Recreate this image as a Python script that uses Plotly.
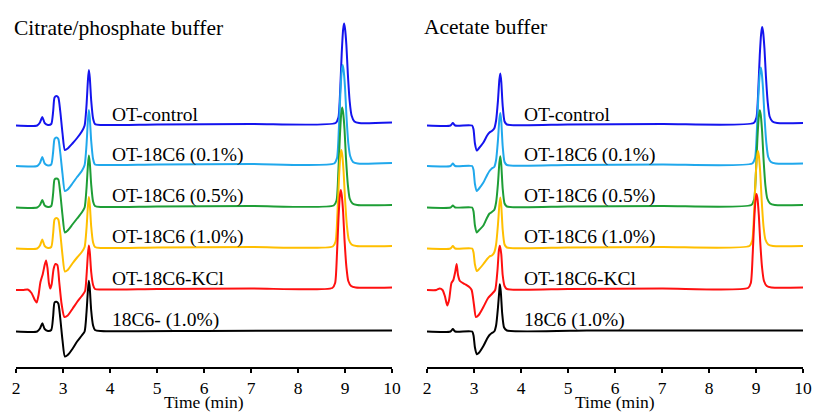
import plotly.graph_objects as go

# ---------------- data (signal in arbitrary units, time in min) ----------------
SERIES = ["OT-control", "OT-18C6 (0.1%)", "OT-18C6 (0.5%)", "OT-18C6 (1.0%)", "OT-18C6-KCl", "18C6"]
COLORS = ["#1414EE", "#20A8EC", "#1E9E36", "#FFBF00", "#FF1010", "#000000"]
OFFSETS = [206, 165.5, 124, 83, 41.5, 0]

LABELS_LEFT = ["OT-control", "OT-18C6 (0.1%)", "OT-18C6 (0.5%)", "OT-18C6 (1.0%)", "OT-18C6-KCl", "18C6- (1.0%)"]
LABELS_RIGHT = ["OT-control", "OT-18C6 (0.1%)", "OT-18C6 (0.5%)", "OT-18C6 (1.0%)", "OT-18C6-KCl", "18C6 (1.0%)"]
TITLE_LEFT = "Citrate/phosphate buffer"
TITLE_RIGHT = "Acetate buffer"
X_TITLE = "Time (min)"
X_TICKS = [2, 3, 4, 5, 6, 7, 8, 9, 10]

# ---- Citrate/phosphate buffer ----
t_L_control = [2.00, 2.45, 2.51, 2.56, 2.61, 2.68, 2.75, 2.79, 2.82, 2.86, 2.90, 2.94, 2.99, 3.04, 3.10, 3.20, 3.30, 3.40, 3.46, 3.50, 3.53, 3.55, 3.57, 3.60, 3.64, 3.68, 3.80, 5.00, 7.00, 8.80, 8.86, 8.90, 8.93, 8.96, 8.98, 9.00, 9.03, 9.06, 9.10, 9.14, 9.20, 9.30, 10.00]
s_L_control = [0, 0, 3, 8.5, 2.5, 0.5, 1.5, 14, 28, 29.5, 28, 15, -8, -24.5, -23, -18, -12.5, -6, 0, 20, 45, 55.5, 48, 25, 7, 1.5, 0.5, 1, 1.5, 2.5, 8, 38, 72, 96, 102, 97, 80, 52, 24, 10, 4, 2.5, 3]

t_L_01 = [2.00, 2.45, 2.51, 2.56, 2.61, 2.68, 2.75, 2.79, 2.82, 2.86, 2.90, 2.94, 2.99, 3.04, 3.10, 3.20, 3.30, 3.40, 3.46, 3.50, 3.53, 3.55, 3.57, 3.60, 3.64, 3.68, 3.80, 5.00, 7.00, 8.77, 8.83, 8.87, 8.90, 8.93, 8.95, 8.97, 9.00, 9.03, 9.07, 9.11, 9.17, 9.27, 10.00]
s_L_01 = [0, 0, 3, 9, 2.5, 0.5, 1.5, 14, 27, 28.5, 27, 14, -8, -25, -23.5, -17.5, -11, -5, 1, 21, 46, 56, 48, 25, 7, 1.5, 1, 1.5, 2, 2.5, 8, 38, 71, 95, 101, 96, 79, 51, 23, 10, 4, 2.5, 3]

t_L_05 = [2.00, 2.45, 2.51, 2.56, 2.61, 2.68, 2.75, 2.79, 2.82, 2.86, 2.90, 2.94, 2.99, 3.04, 3.10, 3.20, 3.30, 3.40, 3.46, 3.50, 3.53, 3.55, 3.57, 3.60, 3.64, 3.68, 3.80, 5.00, 7.00, 8.76, 8.82, 8.86, 8.89, 8.92, 8.94, 8.96, 8.99, 9.02, 9.06, 9.10, 9.16, 9.26, 10.00]
s_L_05 = [0, 0, 2.5, 7.5, 2, 0.5, 1.5, 14, 28, 29, 28, 15, -8, -25, -23, -17, -11, -5, 0, 19, 42, 52, 45, 23, 6, 1.5, 0.5, 1, 1.5, 2, 7, 37, 70, 94, 100, 95, 78, 50, 23, 9, 4, 2.5, 2.5]

t_L_10 = [2.00, 2.45, 2.51, 2.56, 2.61, 2.68, 2.75, 2.79, 2.82, 2.86, 2.90, 2.94, 2.99, 3.04, 3.10, 3.20, 3.30, 3.40, 3.46, 3.50, 3.53, 3.55, 3.57, 3.60, 3.64, 3.68, 3.80, 5.00, 7.00, 8.74, 8.80, 8.84, 8.87, 8.90, 8.92, 8.94, 8.97, 9.00, 9.04, 9.08, 9.14, 9.24, 10.00]
s_L_10 = [0, 0, 3, 9, 2.5, 0.5, 1.5, 15, 29, 30.5, 29, 16, -7, -23, -21.5, -15, -9, -3.5, 1.5, 20, 42, 51.5, 44, 22, 6, 1.5, 0.5, 1, 1.5, 2, 7, 36, 68, 92, 98.5, 94, 77, 50, 23, 9, 4, 2.5, 2.5]

t_L_kcl = [2.00, 2.15, 2.25, 2.33, 2.40, 2.44, 2.48, 2.52, 2.57, 2.61, 2.64, 2.67, 2.70, 2.73, 2.76, 2.80, 2.84, 2.88, 2.92, 2.97, 3.03, 3.10, 3.20, 3.30, 3.40, 3.47, 3.50, 3.53, 3.55, 3.57, 3.60, 3.64, 3.68, 3.80, 5.00, 7.00, 8.73, 8.79, 8.83, 8.86, 8.89, 8.91, 8.93, 8.96, 8.99, 9.03, 9.07, 9.13, 9.23, 10.00]
s_L_kcl = [0, 0, 0.5, -3, -10, -12.5, -5, 8, 16, 25, 29.5, 22, 7, 1.5, 6, 21, 26, 25, 8, -14, -27, -25.5, -19, -12, -6, -1, 14, 36, 44.5, 38, 18, 5, 1, 0.5, 1, 1.5, 2, 7, 37, 70, 94, 100, 95, 78, 50, 23, 9, 4, 2.5, 2.5]

t_L_18c6 = [2.00, 2.45, 2.51, 2.56, 2.61, 2.68, 2.75, 2.79, 2.82, 2.86, 2.90, 2.94, 2.99, 3.04, 3.10, 3.20, 3.30, 3.40, 3.46, 3.50, 3.53, 3.55, 3.57, 3.60, 3.64, 3.68, 3.80, 6.00, 10.00]
s_L_18c6 = [0, 0, 3, 8.3, 2.5, 0.5, 1.5, 15, 29, 29.7, 28, 14, -9, -25, -23.5, -17.5, -10, -4, 0, 19, 41, 50.7, 43, 21, 6, 1.5, 0.5, 0.5, 1]

# ---- Acetate buffer ----
t_R_control = [2.00, 2.50, 2.55, 2.60, 2.96, 2.99, 3.02, 3.06, 3.10, 3.20, 3.28, 3.33, 3.38, 3.43, 3.47, 3.51, 3.54, 3.56, 3.58, 3.61, 3.65, 3.70, 5.00, 7.00, 8.95, 9.01, 9.05, 9.08, 9.11, 9.13, 9.15, 9.18, 9.21, 9.25, 9.29, 9.35, 9.45, 10.00]
s_R_control = [0, 0, 2.5, 0, 0, -4, -18, -25, -23, -17, -10, -7, -5.5, -3, 5, 25, 46, 52, 44, 20, 4, 1, 1, 1.5, 2.5, 8, 37, 70, 92, 98.5, 94, 77, 50, 23, 9, 4, 2.5, 2.5]

t_R_01 = [2.00, 2.50, 2.55, 2.60, 2.96, 2.99, 3.02, 3.06, 3.10, 3.20, 3.28, 3.33, 3.38, 3.43, 3.47, 3.51, 3.54, 3.56, 3.58, 3.61, 3.65, 3.70, 5.00, 7.00, 8.92, 8.98, 9.02, 9.05, 9.08, 9.10, 9.12, 9.15, 9.18, 9.22, 9.26, 9.32, 9.42, 10.00]
s_R_01 = [0, 0, 2.5, 0, 0, -4, -18, -25, -23, -16.5, -9, -5, -2.5, -1, 6, 26, 47, 53, 45, 20, 4, 1, 1, 1.5, 2.5, 8, 37, 70, 92, 98.5, 94, 77, 50, 23, 9, 4, 2.5, 2.5]

t_R_05 = [2.00, 2.50, 2.55, 2.60, 2.96, 2.99, 3.02, 3.06, 3.10, 3.20, 3.28, 3.33, 3.38, 3.43, 3.47, 3.51, 3.54, 3.56, 3.58, 3.61, 3.65, 3.70, 5.00, 7.00, 8.90, 8.96, 9.00, 9.03, 9.06, 9.08, 9.10, 9.13, 9.16, 9.20, 9.24, 9.30, 9.40, 10.00]
s_R_05 = [0, 0, 2, 0, 0, -4, -18, -25, -23, -18, -10, -6, -4.5, -2.5, 5, 24, 45, 51.3, 43, 19, 4, 1, 1, 1.5, 2.5, 8, 37, 69, 91, 97.3, 93, 76, 49, 22, 9, 4, 2.5, 2.5]

t_R_10 = [2.00, 2.50, 2.55, 2.60, 2.96, 2.99, 3.02, 3.06, 3.10, 3.20, 3.28, 3.33, 3.38, 3.43, 3.47, 3.51, 3.54, 3.56, 3.58, 3.61, 3.65, 3.70, 5.00, 7.00, 8.86, 8.92, 8.96, 8.99, 9.02, 9.04, 9.06, 9.09, 9.12, 9.16, 9.20, 9.26, 9.36, 10.00]
s_R_10 = [0, 0, 2.5, 0, 0, -4, -16, -22.5, -21, -15.5, -10.5, -8, -7, -4, 4, 24, 44, 51, 43, 19, 4, 1, 1, 1.5, 2.5, 8, 37, 69, 91, 97.6, 93, 76, 49, 22, 9, 4, 2.5, 2.5]

t_R_kcl = [2.00, 2.20, 2.27, 2.33, 2.38, 2.43, 2.47, 2.52, 2.56, 2.60, 2.63, 2.66, 2.70, 2.80, 2.90, 2.95, 3.00, 3.04, 3.10, 3.20, 3.30, 3.38, 3.45, 3.50, 3.53, 3.55, 3.58, 3.61, 3.65, 3.70, 5.00, 7.00, 8.83, 8.89, 8.93, 8.96, 8.99, 9.01, 9.03, 9.06, 9.09, 9.13, 9.17, 9.23, 9.33, 10.00]
s_R_kcl = [0, 0, 1.5, 0, -6, -15.5, -10, 7, 10, 18, 26, 15, 9, 6, 3, 0, -15, -27, -25, -17, -8, -4, 0, 20, 40, 44.3, 36, 15, 4, 1, 1, 1.5, 2, 7, 36, 68, 90, 96, 92, 75, 48, 22, 9, 4, 2.5, 2.5]

t_R_18c6 = [2.00, 2.50, 2.55, 2.60, 2.96, 2.99, 3.02, 3.06, 3.10, 3.20, 3.28, 3.33, 3.38, 3.43, 3.47, 3.51, 3.54, 3.55, 3.57, 3.60, 3.64, 3.70, 5.40, 6.00, 10.00]
s_R_18c6 = [0, 0, 2.5, 0, 0, -4, -16, -22.7, -21.5, -14.5, -7, -3.5, -1.5, 0, 6, 24, 42, 47.3, 40, 18, 4, 1, 1, 1, 1]

LEFT_T = [t_L_control, t_L_01, t_L_05, t_L_10, t_L_kcl, t_L_18c6]
LEFT_S = [s_L_control, s_L_01, s_L_05, s_L_10, s_L_kcl, s_L_18c6]
RIGHT_T = [t_R_control, t_R_01, t_R_05, t_R_10, t_R_kcl, t_R_18c6]
RIGHT_S = [s_R_control, s_R_01, s_R_05, s_R_10, s_R_kcl, s_R_18c6]

# ---------------- figure ----------------
W, H = 814, 414
ML, MR, MT, MB = 16, 11, 0, 47
PW = W - ML - MR          # plot-area width
PH = H - MT - MB          # plot-area height
FONT = "Times New Roman, Liberation Serif, serif"

fig = go.Figure()
for TT, SS, xa, ya in [(LEFT_T, LEFT_S, "x", "y"), (RIGHT_T, RIGHT_S, "x2", "y2")]:
    for i in range(len(SERIES)):
        fig.add_trace(go.Scatter(
            x=TT[i], y=[v + OFFSETS[i] for v in SS[i]],
            mode="lines", line=dict(color=COLORS[i], width=2, shape="spline", smoothing=0.6),
            name=SERIES[i], showlegend=False, xaxis=xa, yaxis=ya, hoverinfo="skip"))

def px_to_paper_y(py):
    return (H - MB - py) / PH

annotations = []
for i in range(len(SERIES)):
    annotations.append(dict(x=4.0, y=OFFSETS[i] + 11.5, xref="x", yref="y", text=LABELS_LEFT[i],
                            showarrow=False, xanchor="left", yanchor="middle",
                            font=dict(family=FONT, size=19.5, color="black")))
    annotations.append(dict(x=4.02, y=OFFSETS[i] + 11.5, xref="x2", yref="y2", text=LABELS_RIGHT[i],
                            showarrow=False, xanchor="left", yanchor="middle",
                            font=dict(family=FONT, size=19.5, color="black")))

# panel titles
annotations.append(dict(x=(12 - ML) / PW, y=px_to_paper_y(28), xref="paper", yref="paper", text=TITLE_LEFT,
                        showarrow=False, xanchor="left", yanchor="middle",
                        font=dict(family=FONT, size=21.5, color="black")))
annotations.append(dict(x=(422 - ML) / PW, y=px_to_paper_y(27), xref="paper", yref="paper", text=TITLE_RIGHT,
                        showarrow=False, xanchor="left", yanchor="middle",
                        font=dict(family=FONT, size=21.5, color="black")))
# axis titles
for xr in ["x", "x2"]:
    annotations.append(dict(x=6, y=0, xref=xr, yref="paper", yshift=-(413 - (H - MB)), text=X_TITLE,
                            showarrow=False, xanchor="center", yanchor="bottom", borderpad=0,
                            font=dict(family=FONT, size=17.5, color="black")))

xcommon = dict(range=[2, 10], tickvals=X_TICKS, ticks="outside", ticklen=4, tickwidth=1.5,
               tickcolor="black", showline=True, linecolor="black", linewidth=1.5,
               showgrid=False, zeroline=False, automargin=False,
               tickfont=dict(family=FONT, size=17.5, color="black"))
ycommon = dict(range=[-35.5, 331.5], visible=False, showgrid=False, zeroline=False, automargin=False)

fig.update_layout(
    width=W, height=H,
    margin=dict(l=ML, r=MR, t=MT, b=MB, autoexpand=False),
    paper_bgcolor="white", plot_bgcolor="white",
    xaxis=dict(domain=[0, 376 / PW], anchor="y", **xcommon),
    xaxis2=dict(domain=[411 / PW, 1], anchor="y2", **xcommon),
    yaxis=dict(domain=[0, 1], anchor="x", **ycommon),
    yaxis2=dict(domain=[0, 1], anchor="x2", **ycommon),
    annotations=annotations,
)

fig.write_html("out.html", config={"displayModeBar": False},
               post_script="document.body.style.margin='0';document.body.style.overflow='hidden';")
